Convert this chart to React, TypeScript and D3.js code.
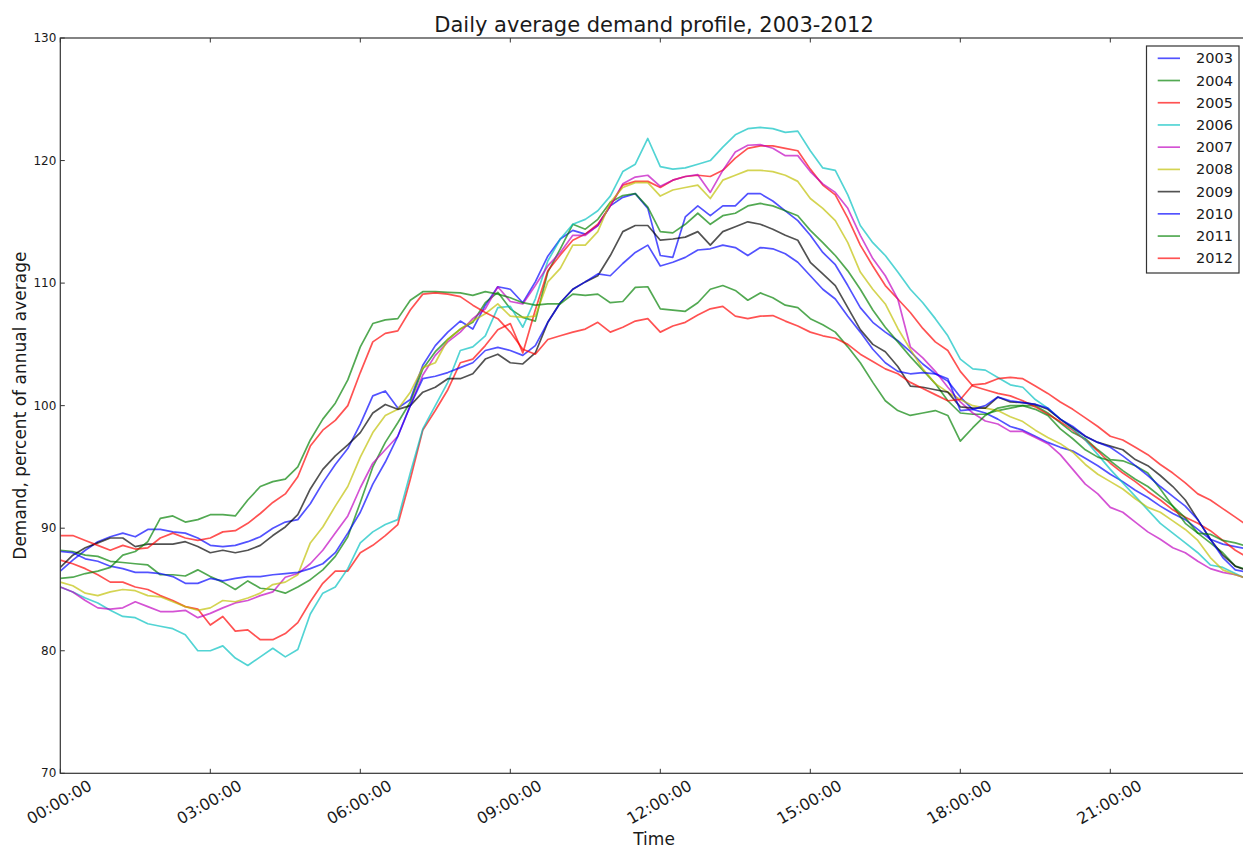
import React, { useEffect, useRef } from 'react';
import * as d3 from 'd3';

// series (15-minute steps, 00:00 .. 23:45)
const years = ['2003', '2004', '2005', '2006', '2007', '2008', '2009', '2010', '2011', '2012'];
const lineColors = ['#0000ff', '#008000', '#ff0000', '#00bfbf', '#bf00bf', '#bfbf00', '#000000', '#0000ff', '#008000', '#ff0000'];

const yTicks = [70, 80, 90, 100, 110, 120, 130];
const xTickHours = [0, 3, 6, 9, 12, 15, 18, 21];
const xTickLabels = ['00:00:00', '03:00:00', '06:00:00', '09:00:00', '12:00:00', '15:00:00', '18:00:00', '21:00:00'];

const d2003 = [
  86.5, 87.4, 88.2, 88.9, 89.3, 89.6, 89.3, 89.9, 89.9, 89.7,
  89.6, 89.2, 88.6, 88.5, 88.6, 88.9, 89.3, 90.0, 90.5, 90.7,
  92.0, 93.7, 95.2, 96.5, 98.5, 100.8, 101.2, 99.8, 100.5, 103.3,
  104.9, 106.0, 106.9, 106.25, 108.2, 109.7, 109.5, 108.4, 110.1, 112.2,
  113.6, 114.3, 114.0, 114.7, 116.3, 117.0, 117.3, 116.1, 112.25, 112.1,
  115.4, 116.3, 115.5, 116.3, 116.3, 117.3, 117.3, 116.7, 115.9, 115.1,
  113.9, 112.5, 111.5, 109.8, 108.0, 106.8, 106.0, 105.3, 104.4, 103.4,
  102.6, 102.0, 100.7, 99.7, 99.4, 98.9, 98.3, 98.0, 97.5, 97.0,
  96.6, 96.3, 95.7, 95.1, 94.4, 93.8, 93.1, 92.5, 91.8, 91.2,
  90.7, 89.9, 89.1, 88.7, 88.5, 88.3,
];
const d2004 = [
  88.2, 88.1, 87.8, 87.7, 87.3, 87.2, 87.1, 87.0, 86.2, 86.2,
  86.1, 86.6, 86.05, 85.6, 85.0, 85.7, 85.1, 85.0, 84.7, 85.2,
  85.8, 86.6, 87.7, 89.3, 92.1, 95.0, 97.0, 98.6, 100.3, 103.0,
  104.4, 105.4, 106.25, 106.8, 108.4, 109.25, 107.9, 107.2, 106.9, 110.9,
  112.8, 114.8, 114.4, 115.2, 116.6, 117.15, 117.3, 116.2, 114.2, 114.1,
  114.8, 115.7, 114.8, 115.5, 115.7, 116.3, 116.5, 116.3, 115.9, 115.5,
  114.3, 113.3, 112.25, 111.0, 109.5, 107.8, 106.4, 105.2, 104.0, 102.9,
  101.8, 100.4, 99.4, 99.3, 99.3, 99.6, 99.8, 100.0, 100.0, 99.4,
  98.6, 97.8, 97.3, 96.4, 95.6, 95.5, 95.1, 94.5, 93.2, 91.8,
  90.4, 89.6, 88.8, 88.0, 86.9, 86.6,
];
const d2005 = [
  87.4, 87.1, 86.7, 86.2, 85.6, 85.6, 85.2, 85.0, 84.5, 84.1,
  83.6, 83.4, 82.1, 82.8, 81.6, 81.7, 80.9, 80.9, 81.4, 82.3,
  84.0, 85.5, 86.5, 86.5, 88.0, 88.6, 89.4, 90.3, 94.0, 98.0,
  99.6, 101.3, 103.5, 103.8, 104.9, 106.2, 106.7, 104.3, 107.8, 111.0,
  112.3, 113.5, 114.0, 114.8, 116.3, 118.0, 118.3, 118.3, 117.8, 118.4,
  118.7, 118.8, 118.7, 119.2, 120.2, 121.0, 121.2, 121.2, 121.0, 120.8,
  119.3, 118.0, 117.2, 115.3, 113.1, 111.4, 109.8, 108.7, 107.6, 106.3,
  105.2, 104.5, 102.8, 101.6, 101.3, 101.0, 100.8, 100.4, 99.9, 99.3,
  98.7, 98.0, 97.2, 96.3, 95.3, 94.5, 93.8, 93.0, 92.3, 91.5,
  90.9, 90.4, 89.8, 89.0, 88.2, 87.6,
];
const d2006 = [
  85.2, 84.8, 84.3, 83.9, 83.3, 82.8, 82.7, 82.2, 82.0, 81.8,
  81.3, 80.0, 80.0, 80.4, 79.4, 78.8, 79.5, 80.2, 79.5, 80.1,
  83.0, 84.7, 85.2, 86.7, 88.8, 89.7, 90.3, 90.7, 94.5, 98.1,
  100.0, 101.9, 104.5, 104.8, 105.7, 108.0, 108.1, 106.4, 108.7, 111.8,
  113.6, 114.8, 115.2, 115.9, 117.1, 119.1, 119.7, 121.8, 119.5, 119.3,
  119.4, 119.7, 120.0, 121.1, 122.1, 122.6, 122.7, 122.6, 122.3, 122.4,
  120.8, 119.4, 119.2, 117.2, 114.7, 113.3, 112.25, 110.9, 109.5, 108.4,
  107.1, 105.7, 103.8, 103.0, 102.9, 102.3, 101.7, 101.5, 100.5, 99.8,
  98.9, 98.1, 97.2, 96.0, 94.8, 93.7, 92.6, 91.5, 90.4, 89.6,
  88.8, 88.0, 87.0, 86.8, 86.3, 85.8,
];
const d2007 = [
  85.2, 84.8, 84.1, 83.5, 83.4, 83.5, 84.0, 83.6, 83.2, 83.2,
  83.3, 82.7, 83.05, 83.5, 83.9, 84.1, 84.5, 84.8, 86.0, 86.3,
  87.1, 88.2, 89.6, 91.0, 93.3, 95.3, 96.4, 97.5, 100.0, 102.5,
  104.1, 105.2, 106.0, 107.1, 107.9, 109.7, 108.5, 108.3, 109.8, 111.4,
  112.5, 113.9, 113.9, 114.7, 116.3, 118.1, 118.65, 118.8, 117.9, 118.4,
  118.7, 118.85, 117.4, 119.2, 120.7, 121.25, 121.3, 121.0, 120.4, 120.4,
  119.1, 118.1, 117.4, 116.1, 113.9, 112.0, 110.6, 108.7, 104.8, 103.9,
  102.8, 101.5, 100.3, 99.4, 98.75, 98.5, 97.9, 97.9, 97.4, 96.9,
  96.0, 94.8, 93.6, 92.8, 91.7, 91.3, 90.5, 89.7, 89.1, 88.4,
  88.0, 87.3, 86.7, 86.4, 86.2, 85.9,
];
const d2008 = [
  85.6, 85.3, 84.7, 84.5, 84.8, 85.0, 84.9, 84.5, 84.4, 84.0,
  83.6, 83.3, 83.5, 84.1, 84.0, 84.3, 84.7, 85.4, 85.6, 86.2,
  88.8, 90.1, 91.8, 93.4, 95.8, 97.8, 99.2, 99.7, 101.1, 103.1,
  103.5, 105.4, 106.25, 106.9, 107.5, 108.3, 107.3, 107.2, 107.3, 110.1,
  111.2, 113.1, 113.1, 114.2, 116.6, 117.8, 118.2, 118.2, 117.1, 117.6,
  117.8, 118.0, 116.9, 118.4, 118.8, 119.2, 119.2, 119.1, 118.8, 118.3,
  116.9, 116.1, 115.1, 113.3, 110.9, 109.5, 108.3, 106.3, 104.6, 103.0,
  101.8, 101.1, 100.5, 100.0, 99.8, 99.6, 99.1, 98.7, 98.0, 97.4,
  96.9, 96.2, 95.2, 94.4, 93.8, 93.2, 92.4, 91.7, 91.3, 90.6,
  89.9, 89.0, 87.6, 86.6, 86.2, 85.9,
];
const d2009 = [
  86.8, 87.8, 88.4, 88.8, 89.2, 89.2, 88.5, 88.7, 88.7, 88.7,
  88.9, 88.5, 88.0, 88.2, 88.0, 88.2, 88.6, 89.4, 90.1, 91.1,
  93.2, 94.8, 95.9, 96.8, 97.8, 99.4, 100.1, 99.7, 100.0, 101.1,
  101.5, 102.2, 102.2, 102.6, 103.8, 104.2, 103.5, 103.4, 104.3, 106.8,
  108.4, 109.5, 110.1, 110.6, 112.25, 114.2, 114.7, 114.7, 113.5, 113.6,
  113.75, 114.2, 113.1, 114.2, 114.6, 115.0, 114.8, 114.4, 113.9, 113.5,
  111.7, 110.75, 109.8, 108.0, 106.2, 105.0, 104.4, 103.2, 101.6, 101.5,
  101.3, 101.1, 99.9, 99.8, 99.8, 100.7, 100.3, 100.25, 100.1, 99.7,
  98.9, 98.2, 97.5, 97.0, 96.7, 96.4, 95.6, 95.1, 94.3, 93.4,
  92.3, 90.7, 89.1, 87.8, 86.9, 86.5,
];
const d2010 = [
  88.1, 88.0, 87.5, 87.3, 86.9, 86.7, 86.4, 86.4, 86.3, 86.05,
  85.5, 85.5, 85.9, 85.7, 85.9, 86.05, 86.05, 86.2, 86.3, 86.4,
  86.7, 87.1, 88.0, 89.6, 91.3, 93.6, 95.4, 97.5, 100.0, 102.2,
  102.4, 102.7, 103.1, 103.5, 104.5, 104.75, 104.5, 104.1, 104.9, 106.8,
  108.4, 109.5, 110.1, 110.75, 110.6, 111.6, 112.5, 113.1, 111.4, 111.7,
  112.1, 112.7, 112.8, 113.1, 112.9, 112.25, 112.9, 112.8, 112.4, 111.7,
  110.6, 109.5, 108.7, 107.3, 106.0, 104.6, 103.5, 102.8, 102.6, 102.7,
  102.6, 102.2, 99.6, 99.7, 100.0, 100.7, 100.4, 100.25, 100.1, 99.8,
  98.9, 98.3, 97.5, 97.0, 96.6, 95.9, 95.1, 94.3, 93.4, 92.6,
  91.8, 90.7, 89.1, 87.6, 86.6, 86.4,
];
const d2011 = [
  85.9, 86.0, 86.3, 86.5, 86.8, 87.8, 88.1, 88.9, 90.8, 91.0,
  90.5, 90.7, 91.1, 91.1, 91.0, 92.3, 93.4, 93.8, 94.0, 95.0,
  97.2, 98.9, 100.2, 102.1, 104.8, 106.7, 107.0, 107.1, 108.6, 109.3,
  109.3, 109.25, 109.2, 109.0, 109.3, 109.1, 108.8, 108.4, 108.2, 108.3,
  108.3, 109.1, 109.0, 109.1, 108.4, 108.5, 109.65, 109.7, 107.9, 107.8,
  107.7, 108.4, 109.5, 109.8, 109.4, 108.6, 109.2, 108.8, 108.2, 108.0,
  107.1, 106.6, 106.0, 104.8, 103.5, 101.9, 100.4, 99.6, 99.2, 99.4,
  99.6, 99.2, 97.1, 98.2, 99.2, 99.8, 100.0, 100.0, 99.7, 99.2,
  98.1, 97.3, 96.4, 95.8, 95.5, 94.7, 94.0, 93.4, 92.6, 91.8,
  90.85, 89.6, 89.5, 89.0, 88.8, 88.5,
];
const d2012 = [
  89.4, 89.4, 89.0, 88.6, 88.2, 88.6, 88.3, 88.4, 89.2, 89.6,
  89.2, 89.0, 89.2, 89.7, 89.8, 90.4, 91.2, 92.1, 92.8, 94.2,
  96.7, 98.0, 98.8, 100.0, 102.7, 105.2, 105.9, 106.1, 107.8, 109.1,
  109.2, 109.1, 108.9, 108.2, 107.6, 107.1, 106.0, 104.6, 104.2, 105.4,
  105.7, 106.0, 106.25, 106.8, 106.0, 106.4, 106.9, 107.1, 106.0, 106.5,
  106.8, 107.4, 107.9, 108.1, 107.3, 107.1, 107.3, 107.35, 106.9, 106.5,
  106.0, 105.7, 105.5, 105.0, 104.2, 103.6, 103.0, 102.6, 101.9, 101.4,
  100.9, 100.4, 100.5, 101.7, 101.8, 102.2, 102.3, 102.2, 101.6, 101.0,
  100.3, 99.7, 99.0, 98.3, 97.5, 97.2, 96.6, 96.0, 95.2, 94.5,
  93.7, 92.8, 92.3, 91.6, 90.9, 90.2,
];

const series = [d2003, d2004, d2005, d2006, d2007, d2008, d2009, d2010, d2011, d2012];

const DemandChart = () => {
  const ref = useRef(null);

  const width = 1243, height = 848;
  const marginLeft = 60.3, plotRight = 1247.8, marginTop = 38, plotBottom = 773.3;
  const FONT = '"DejaVu Sans", sans-serif';
  const TEXT = '#1a1a1a';

  useEffect(() => {
    const svg = d3.select(ref.current)
      .attr('width', width)
      .attr('height', height)
      .attr('viewBox', [0, 0, width, height])
      .style('position', 'absolute')
      .style('left', '0px')
      .style('top', '0px')
      .style('overflow', 'hidden')
      .style('font-family', FONT);

    svg.selectAll('*').remove();

    const x = d3.scaleLinear().domain([0, 23.75]).range([marginLeft, plotRight]);
    const y = d3.scaleLinear().domain([70, 130]).range([plotBottom, marginTop]);

    svg.append('rect').attr('width', width).attr('height', height).attr('fill', '#fff');

    svg.append('defs').append('clipPath').attr('id', 'plot-clip')
      .append('rect')
      .attr('x', marginLeft).attr('y', marginTop)
      .attr('width', plotRight - marginLeft).attr('height', plotBottom - marginTop);

    // lines
    const line = d3.line<number>()
      .x((_, i) => x(i * 0.25))
      .y(d => y(d));

    const lines = svg.append('g').attr('clip-path', 'url(#plot-clip)');
    series.forEach((vals, k) => {
      lines.append('path')
        .attr('d', line(vals))
        .attr('fill', 'none')
        .attr('stroke', lineColors[k])
        .attr('stroke-opacity', 0.68)
        .attr('stroke-width', 1.7)
        .attr('stroke-linejoin', 'round');
    });

    // frame
    svg.append('rect')
      .attr('x', marginLeft).attr('y', marginTop)
      .attr('width', plotRight - marginLeft).attr('height', plotBottom - marginTop)
      .attr('fill', 'none')
      .attr('stroke', '#333')
      .attr('stroke-width', 1.2);

    // inward ticks on all four sides
    const tickLen = 4.5;
    const ticks = svg.append('g').attr('stroke', '#333').attr('stroke-width', 1);
    xTickHours.forEach(h => {
      ticks.append('line').attr('x1', x(h)).attr('x2', x(h)).attr('y1', plotBottom).attr('y2', plotBottom - tickLen);
      ticks.append('line').attr('x1', x(h)).attr('x2', x(h)).attr('y1', marginTop).attr('y2', marginTop + tickLen);
    });
    yTicks.forEach(v => {
      ticks.append('line').attr('x1', marginLeft).attr('x2', marginLeft + tickLen).attr('y1', y(v)).attr('y2', y(v));
      ticks.append('line').attr('x1', plotRight).attr('x2', plotRight - tickLen).attr('y1', y(v)).attr('y2', y(v));
    });

    // y tick labels
    svg.append('g')
      .selectAll('text')
      .data(yTicks)
      .join('text')
      .attr('x', marginLeft - 4)
      .attr('y', d => y(d))
      .attr('text-anchor', 'end')
      .attr('dominant-baseline', 'central')
      .attr('font-size', 12)
      .attr('fill', TEXT)
      .text(d => d);

    // x tick labels, rotated
    svg.append('g')
      .selectAll('g')
      .data(xTickHours)
      .join('g')
      .attr('transform', d => `translate(${x(d) - 1},802) rotate(-30)`)
      .append('text')
      .attr('text-anchor', 'middle')
      .attr('dominant-baseline', 'central')
      .attr('font-size', 16)
      .attr('fill', TEXT)
      .text((_, i) => xTickLabels[i]);

    // title and axis labels
    svg.append('text')
      .attr('x', (marginLeft + plotRight) / 2)
      .attr('y', 32)
      .attr('text-anchor', 'middle')
      .attr('font-size', 21)
      .attr('fill', TEXT)
      .text('Daily average demand profile, 2003-2012');

    svg.append('text')
      .attr('x', (marginLeft + plotRight) / 2)
      .attr('y', 845)
      .attr('text-anchor', 'middle')
      .attr('font-size', 17)
      .attr('fill', TEXT)
      .text('Time');

    svg.append('text')
      .attr('transform', `translate(25.5,${(marginTop + plotBottom) / 2}) rotate(-90)`)
      .attr('text-anchor', 'middle')
      .attr('font-size', 17)
      .attr('fill', TEXT)
      .text('Demand, percent of annual average');

    // legend
    const legend = svg.append('g');
    legend.append('rect')
      .attr('x', 1146.5).attr('y', 46)
      .attr('width', 92.5).attr('height', 227)
      .attr('fill', '#fff')
      .attr('stroke', '#333')
      .attr('stroke-width', 1.2);

    years.forEach((yr, k) => {
      const ly = 58.3 + k * 22.22;
      legend.append('line')
        .attr('x1', 1157.7).attr('x2', 1180)
        .attr('y1', ly).attr('y2', ly)
        .attr('stroke', lineColors[k])
        .attr('stroke-opacity', 0.68)
        .attr('stroke-width', 1.7);
      legend.append('text')
        .attr('x', 1196)
        .attr('y', ly)
        .attr('dominant-baseline', 'central')
        .attr('font-size', 14.5)
        .attr('fill', TEXT)
        .text(yr);
    });
  }, []);

  return <svg ref={ref}></svg>;
};

export default function App() {
  return <DemandChart />;
}
